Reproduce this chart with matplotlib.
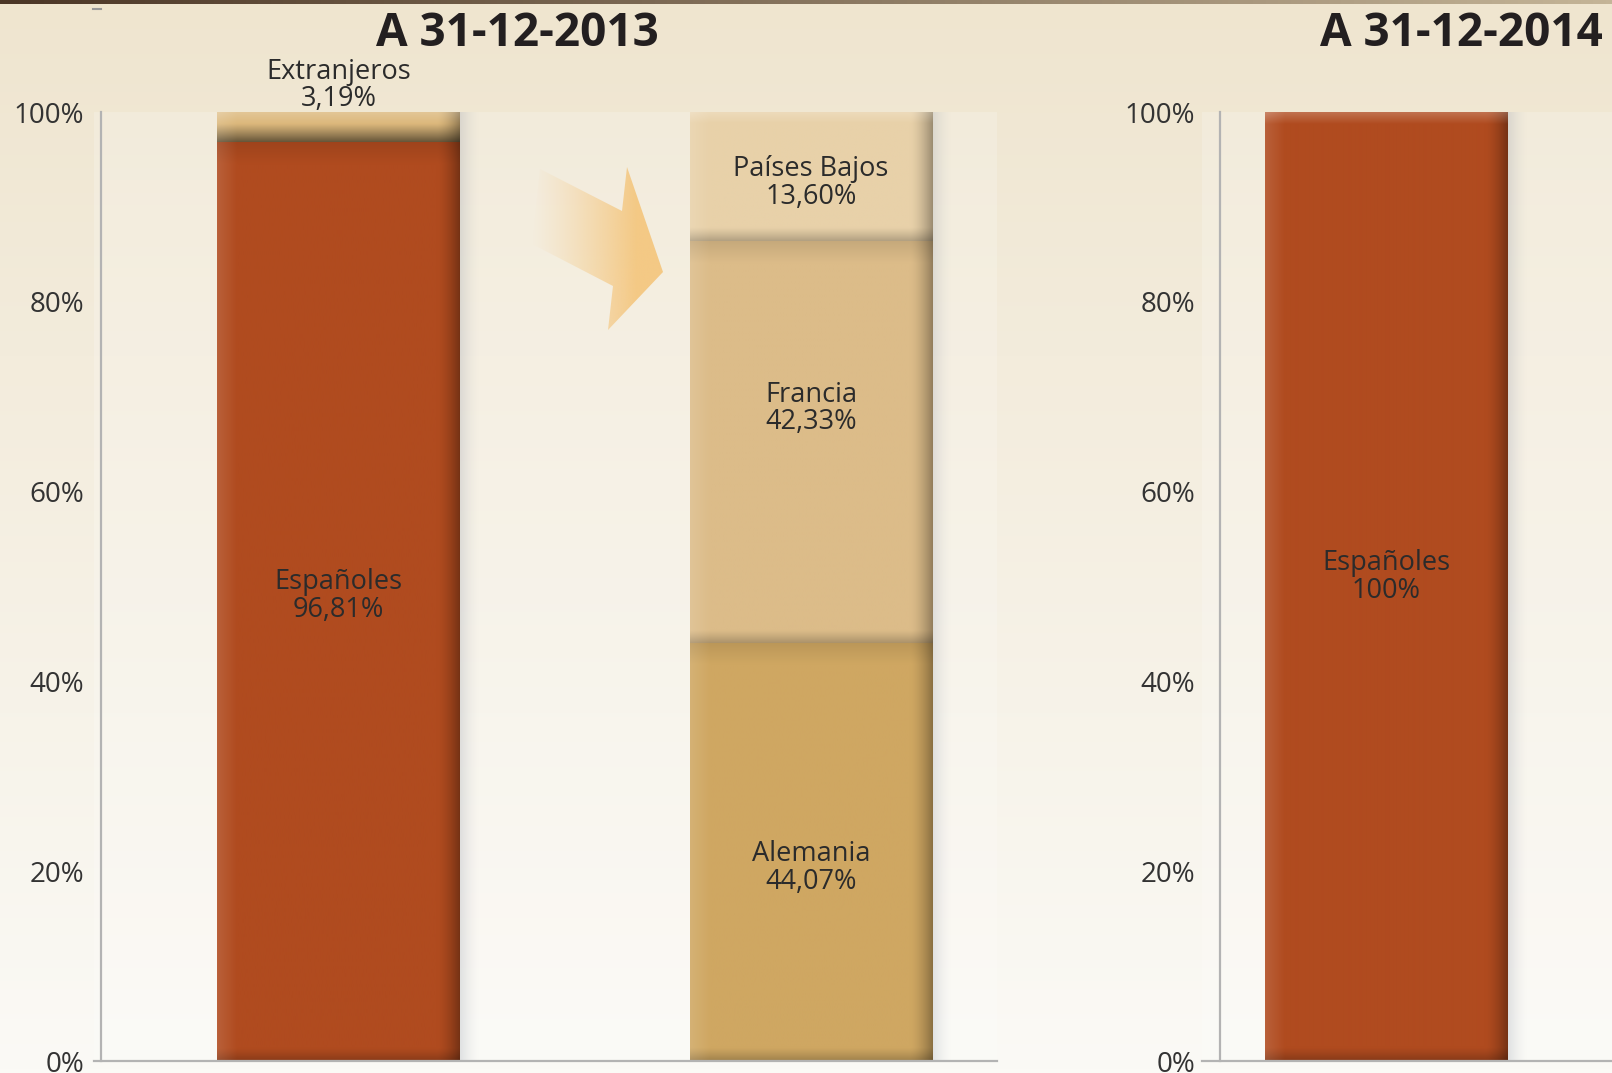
import numpy as np
import matplotlib
matplotlib.use('Agg')
import matplotlib.pyplot as plt
from matplotlib.colors import to_rgb
from matplotlib.patches import Polygon

plt.rcParams['font.family'] = ['Open Sans', 'DejaVu Sans']

# --- data ---
names_2013 = ['Españoles', 'Extranjeros']
values_2013 = [96.81, 3.19]
names_ext = ['Alemania', 'Francia', 'Países Bajos']
values_ext = [44.07, 42.33, 13.60]
names_2014 = ['Españoles']
values_2014 = [100.0]
titles = ['A 31-12-2013', 'A 31-12-2014']
yticks = [0, 20, 40, 60, 80, 100]
ytick_labels = ['0%', '20%', '40%', '60%', '80%', '100%']

colors = {'Españoles': '#b04b1f', 'Extranjeros': '#dcb87c', 'Alemania': '#cfa762',
          'Francia': '#dcbc89', 'Países Bajos': '#e8d1a9'}
# small vertical shifts of the in-bar labels (data units), as placed in the original
nudge_2013 = [0.6, 0]
nudge_ext = [-1.7, 3.5, -0.7]
nudge_2014 = [1.0]

W, H = 1612, 1073
PX_X, PX_Y = 472.5, 9.49   # pixels per data unit
BAR_W = 0.514
LABEL_SIZE = 19.5


def px_rect(l, t, r, b):
    return [l / W, 1 - b / H, (r - l) / W, (b - t) / H]


def pct(v):
    if v == 100:
        return '100%'
    return f'{v:.2f}'.replace('.', ',') + '%'


def shade(ax, patch, color, top_seg, strong=False):
    """texture over one bar segment: light left/top, dark right/bottom"""
    x0, y0 = patch.get_x(), patch.get_y()
    w, h = patch.get_width(), patch.get_height()
    pw, ph = w * PX_X, h * PX_Y
    u = np.arange(int(pw)) + 0.5
    v = np.arange(max(int(ph), 2)) + 0.5
    U, V = np.meshgrid(u, v)
    dist_b = ph - V
    d_right = 0.36 * np.clip(1 - (pw - U) / 24, 0, 1) ** 1.6
    if strong:
        d_bot = 0.55 * np.clip(1 - dist_b / (ph * 0.6), 0, 1) ** 1.1
    else:
        d_bot = 0.24 * np.clip(1 - dist_b / 14, 0, 1) ** 1.2
    d_top = 0 if top_seg else 0.10 * np.clip(1 - V / 22, 0, 1)
    dark = 1 - (1 - d_right) * (1 - d_bot) * (1 - d_top)
    light = 0.12 * np.clip(1 - U / 20, 0, 1)
    if top_seg:
        light = light + 0.22 * np.clip(1 - V / 12, 0, 1)
    rgb = np.array(to_rgb(color))
    img = rgb * (1 - dark[..., None])
    img = img + (1 - img) * light[..., None]
    ax.imshow(np.clip(img, 0, 1), extent=(x0, x0 + w, y0, y0 + h), origin='upper',
              aspect='auto', zorder=2.5, interpolation='bilinear')


def drop_shadow(ax, x_right, top):
    n = 40
    a = 0.24 * (1 - np.linspace(0, 1, n)) ** 1.5
    img = np.zeros((1, n, 4))
    img[..., 0], img[..., 1], img[..., 2] = 0.55, 0.58, 0.64
    img[..., 3] = a
    ax.imshow(img, extent=(x_right, x_right + 20 / PX_X, 0, top), aspect='auto',
              zorder=1.5, interpolation='bilinear')


def stacked_bar(ax, x, names, values, nudges):
    bottom = 0
    for i, (n, v) in enumerate(zip(names, values)):
        bars = ax.bar(x, v, BAR_W, bottom=bottom, color=colors[n], zorder=2)
        top_seg = i == len(values) - 1
        shade(ax, bars[0], colors[n], top_seg, strong=(v < 5))
        if v < 5:
            ax.annotate(f'{n}\n{pct(v)}', (x, bottom + v), xytext=(0, 19),
                        textcoords='offset points', ha='center', va='center',
                        fontsize=LABEL_SIZE, linespacing=0.98, color='#2b2b2b',
                        annotation_clip=False)
        else:
            ax.text(x, bottom + v / 2 + nudges[i], f'{n}\n{pct(v)}', ha='center',
                    va='center', fontsize=LABEL_SIZE, linespacing=0.98, color='#2b2b2b',
                    zorder=4)
        bottom += v
    drop_shadow(ax, x + BAR_W / 2, bottom)


def setup(ax, xlim, spine_x, pad):
    ax.set_facecolor((1, 1, 1, 0.2))
    ax.set_xlim(xlim)
    ax.set_ylim(0, 100)
    for s in ['top', 'right']:
        ax.spines[s].set_visible(False)
    ax.spines['left'].set_position(('data', spine_x))
    for s in ['left', 'bottom']:
        ax.spines[s].set_color('#b3b3b3')
        ax.spines[s].set_linewidth(1.6)
        ax.spines[s].set_zorder(3)
    ax.set_xticks([])
    ax.set_yticks(yticks)
    ax.set_yticklabels(ytick_labels)
    ax.tick_params(axis='y', length=0, pad=pad, labelsize=20, labelcolor='#333333')


fig = plt.figure(figsize=(W / 100, H / 100), dpi=100)

# page background
bg = fig.add_axes([0, 0, 1, 1], zorder=-1)
bg.axis('off')
top_c = np.array(to_rgb('#efe5cf'))
bot_c = np.array(to_rgb('#fbfaf6'))
t = np.linspace(0, 1, 256)[:, None]
grad = top_c * (1 - t) + bot_c * t
bg.imshow(grad[:, None, :].repeat(2, axis=1), extent=(0, W, H, 0), aspect='auto')
s = np.linspace(0, 1, 256)[:, None]
stripe = np.array(to_rgb('#4b3626')) * (1 - s) + np.array(to_rgb('#c4b497')) * s
bg.imshow(stripe[None, :, :].repeat(2, axis=0), extent=(0, W, 4, 0), aspect='auto')
bg.plot([93, 101], [9, 9], color='#9a9a9a', lw=1.5)
bg.set_xlim(0, W)
bg.set_ylim(H, 0)

# 2013 panel
ax1 = fig.add_axes(px_rect(94, 112, 997, 1061))
stacked_bar(ax1, 0, names_2013, values_2013, nudge_2013)
stacked_bar(ax1, 1, names_ext, values_ext, nudge_ext)
setup(ax1, (-(338.5 - 94) / PX_X, 1 + (997 - 811) / PX_X), -(338.5 - 101) / PX_X, 12)

# 2014 panel
ax2 = fig.add_axes(px_rect(1202, 112, 1612, 1061))
stacked_bar(ax2, 0, names_2014, values_2014, nudge_2014)
setup(ax2, (-(1386.5 - 1202) / PX_X, (1612 - 1386.5) / PX_X), -(1386.5 - 1220) / PX_X, 18)

fig.text(517 / W, 1 - 34 / H, titles[0], ha='center', va='center', fontsize=33,
         fontweight='bold', color='#231f20')
fig.text(1603 / W, 1 - 34 / H, titles[1], ha='right', va='center', fontsize=33,
         fontweight='bold', color='#231f20')

# arrow from the foreigners share to its breakdown
ov = fig.add_axes([0, 0, 1, 1], zorder=5)
ov.axis('off')
ov.patch.set_alpha(0)
arrow_pts = [(540, 169), (622, 211), (627, 167), (663, 272), (608, 330), (613, 286), (532, 244)]
poly = Polygon(arrow_pts, closed=True, facecolor='none', edgecolor='none')
ov.add_patch(poly)
a = np.clip(np.linspace(0, 1, 200) / 0.8, 0, 1) ** 1.2
arr = np.zeros((1, 200, 4))
arr[..., :3] = to_rgb('#f4c985')
arr[..., 3] = a
im = ov.imshow(arr, extent=(532, 663, 330, 167), aspect='auto', interpolation='bilinear')
im.set_clip_path(poly)
ov.set_xlim(0, W)
ov.set_ylim(H, 0)

fig.savefig('out.png', dpi=100)
